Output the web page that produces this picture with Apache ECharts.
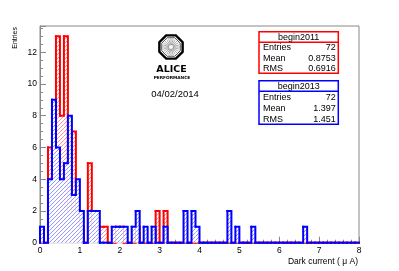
<!DOCTYPE html>
<html><head><meta charset="utf-8">
<script src="https://cdn.jsdelivr.net/npm/echarts@6/dist/echarts.min.js"></script>
<style>html,body{margin:0;padding:0;background:#fff}#c{width:399px;height:271px}</style>
</head><body><div id="c"></div>
<script>
// ---- data ----
const binWidth = 0.1;
const xMin = 0, xMax = 8;
const yMax = 13.65;
// counts per 0.1 bin, 0..8
const red2011 = [0,0,6,4,13,8,13,2,7,2, 1,0,5,1,1,1,1,0,0,1, 1,0,0,0,1,0,0,0,0,2, 0,2,0,0,0,0,0,0,0,0,
                 0,0,0,0,0,0,0,0,0,0, 0,0,0,0,0,0,0,0,0,0, 0,0,0,0,0,0,0,0,0,0, 0,0,0,0,0,0,0,0,0,0];
const blue2013 = [1,0,4,9,6,4,5,8,3,4, 2,0,2,2,2,0,0,0,1,1, 1,1,0,1,2,0,1,0,1,0, 0,1,0,0,0,0,2,0,2,1,
                  0,0,0,0,0,0,0,2,0,1, 0,0,0,1,0,0,0,0,0,0, 0,0,0,0,0,0,1,0,0,0, 0,0,0,0,0,0,0,0,0,0];
const seriesNames = ['begin2011','begin2013'];
const statsLabels = ['Entries','Mean','RMS'];
const stats2011 = ['72','0.8753','0.6916'];
const stats2013 = ['72','1.397','1.451'];
const xTitle = 'Dark current ( \u03bc A)';
const yTitle = 'Entries';
const dateText = '04/02/2014';

const RED = '#ff0000', BLUE = '#0000ff';
const FONT = 'Liberation Sans, Arial, Helvetica, sans-serif';
const HATCH = 4;

function hatchPath(x0, y0, x1, y1){
  let d = '';
  for(let c = Math.ceil((x0+y0)/HATCH)*HATCH; c <= x1+y1; c += HATCH){
    const xa = Math.max(x0, c-y1), xb = Math.min(x1, c-y0);
    if(xb > xa) d += 'M' + xa.toFixed(2) + ' ' + (c-xa).toFixed(2) + 'L' + xb.toFixed(2) + ' ' + (c-xb).toFixed(2);
  }
  return d;
}

function fillSeries(counts, hatchColor, z){
  const data = counts.map((v,i)=>[i*binWidth, (i+1)*binWidth, v]).filter(d=>d[2]>0);
  return {
    type:'custom', z, silent:true, animation:false, data, clip:false,
    encode:{x:[0,1], y:2},
    renderItem(params, api){
      const p0 = api.coord([api.value(0), api.value(2)]);
      const p1 = api.coord([api.value(1), 0]);
      const x0 = p0[0], y0 = p0[1], x1 = p1[0], y1 = p1[1];
      return {type:'group', children:[
        {type:'rect', shape:{x:x0, y:y0, width:x1-x0, height:y1-y0}, style:{fill:'#ffffff', stroke:null}},
        {type:'path', shape:{pathData:hatchPath(x0, y0, x1, y1)},
         style:{fill:null, stroke:hatchColor, lineWidth:0.8}}
      ]};
    }
  };
}
// step outline: each item = [lowEdge, highEdge, thisCount, nextCount]
function outlineSeries(counts, color, z){
  const data = counts.map((v,i)=>[i*binWidth, (i+1)*binWidth, v, i+1<counts.length ? counts[i+1] : 0]);
  return {
    type:'custom', z, silent:true, animation:false, data, clip:false,
    encode:{x:[0,1], y:2},
    renderItem(params, api){
      const a = api.coord([api.value(0), api.value(2)]);
      const b = api.coord([api.value(1), api.value(2)]);
      const c = api.coord([api.value(1), api.value(3)]);
      const pts = [];
      if(params.dataIndex === 0) pts.push(api.coord([api.value(0), 0]));
      pts.push(a, b, c);
      return {type:'polyline', shape:{points:pts},
              style:{fill:null, stroke:color, lineWidth:2, lineCap:'square', lineJoin:'miter'}};
    }
  };
}

// ---- graphics (stats boxes, logo, titles) ----
const graphics = [];
function statsBox(x, y, w, h, headH, color, title, values){
  graphics.push({type:'rect', shape:{x, y, width:w, height:h}, style:{fill:'#fff', stroke:color, lineWidth:1.5}, z:100});
  graphics.push({type:'line', shape:{x1:x, y1:y+headH, x2:x+w, y2:y+headH}, style:{stroke:color, lineWidth:1.5}, z:101});
  graphics.push({type:'text', x:x+w/2, y:y+headH/2+0.5, style:{text:title, font:'9px '+FONT, fill:'#000', align:'center', verticalAlign:'middle'}, z:102});
  const rowH = (h-headH)/3;
  statsLabels.forEach((lab,i)=>{
    const ty = y+headH+rowH*(i+0.5)+0.5;
    graphics.push({type:'text', x:x+4, y:ty, style:{text:lab, font:'9px '+FONT, fill:'#000', align:'left', verticalAlign:'middle'}, z:102});
    graphics.push({type:'text', x:x+w-2.5, y:ty, style:{text:values[i], font:'9px '+FONT, fill:'#000', align:'right', verticalAlign:'middle'}, z:102});
  });
}
statsBox(259, 31.7, 79.3, 41.6, 10.6, RED, seriesNames[0], stats2011);
statsBox(259, 80.7, 79.3, 43.6, 10.6, BLUE, seriesNames[1], stats2013);

// ALICE logo
(function(){
  const cx = 171, cy = 47;
  function oct(r){
    const pts = [];
    for(let k=0;k<8;k++){ const a = Math.PI/8 + k*Math.PI/4; pts.push([cx+r*Math.cos(a), cy+r*Math.sin(a)]); }
    return pts;
  }
  graphics.push({type:'polygon', shape:{points:oct(12.6)}, style:{fill:'#fff', stroke:'#000', lineWidth:2.4}, z:50});
  graphics.push({type:'polygon', shape:{points:oct(10)}, style:{fill:'none', stroke:'#222', lineWidth:0.8}, z:51});
  for(let k=0;k<24;k++){
    const a = k*Math.PI/12;
    graphics.push({type:'line', shape:{x1:cx+2*Math.cos(a), y1:cy+2*Math.sin(a), x2:cx+8.5*Math.cos(a), y2:cy+8.5*Math.sin(a)},
                   style:{stroke:'#777', lineWidth:0.6}, z:52});
  }
  graphics.push({type:'text', x:cx+0.5, y:69.5, style:{text:'ALICE', font:'bold 9.5px DejaVu Sans, sans-serif', fill:'#000', align:'center', verticalAlign:'middle'}, z:52});
  graphics.push({type:'text', x:cx+1, y:77.7, style:{text:'PERFORMANCE', font:'bold 4.3px DejaVu Sans, sans-serif', fill:'#000', align:'center', verticalAlign:'middle'}, z:52});
  graphics.push({type:'text', x:175, y:94.5, style:{text:dateText, font:'9.5px '+FONT, fill:'#000', align:'center', verticalAlign:'middle'}, z:52});
})();

graphics.push({type:'text', x:15, y:27, rotation:Math.PI/2, style:{text:yTitle, font:'7px '+FONT, fill:'#000', align:'right', verticalAlign:'middle'}, z:60});
graphics.push({type:'text', x:358, y:262, style:{text:xTitle, font:'8.5px '+FONT, fill:'#000', align:'right', verticalAlign:'middle'}, z:60});

const chart = echarts.init(document.getElementById('c'), null, {renderer:'canvas'});
const axisGray = '#888';
chart.setOption({
  animation:false,
  backgroundColor:'#fff',
  grid:{left:40, right:40, top:26, bottom:28.3, show:true, borderColor:axisGray, borderWidth:1, backgroundColor:'transparent'},
  xAxis:{type:'value', min:xMin, max:xMax, interval:1,
    axisLine:{show:true, onZero:false, lineStyle:{color:axisGray, width:1}},
    axisTick:{show:true, inside:true, length:6, lineStyle:{color:axisGray}},
    minorTick:{show:true, splitNumber:5, length:3, lineStyle:{color:axisGray}},
    splitLine:{show:false},
    axisLabel:{fontSize:8.5, color:'#000', margin:3, fontFamily:FONT}},
  yAxis:{type:'value', min:0, max:yMax, interval:2,
    axisLine:{show:true, onZero:false, lineStyle:{color:axisGray, width:1}},
    axisTick:{show:true, inside:true, length:6, lineStyle:{color:axisGray}},
    minorTick:{show:true, splitNumber:4, length:3, lineStyle:{color:axisGray}},
    splitLine:{show:false},
    axisLabel:{fontSize:8.5, color:'#000', margin:3, fontFamily:FONT, showMaxLabel:false,
      formatter:v=> (Math.abs(v - Math.round(v))<1e-9 && Math.round(v)%2===0) ? String(v) : ''}},
  series:[
    fillSeries(red2011, '#ff7070', 2),
    outlineSeries(red2011, RED, 3),
    fillSeries(blue2013, '#7878ff', 4),
    outlineSeries(blue2013, BLUE, 5)
  ],
  graphic:graphics
});
</script></body></html>
